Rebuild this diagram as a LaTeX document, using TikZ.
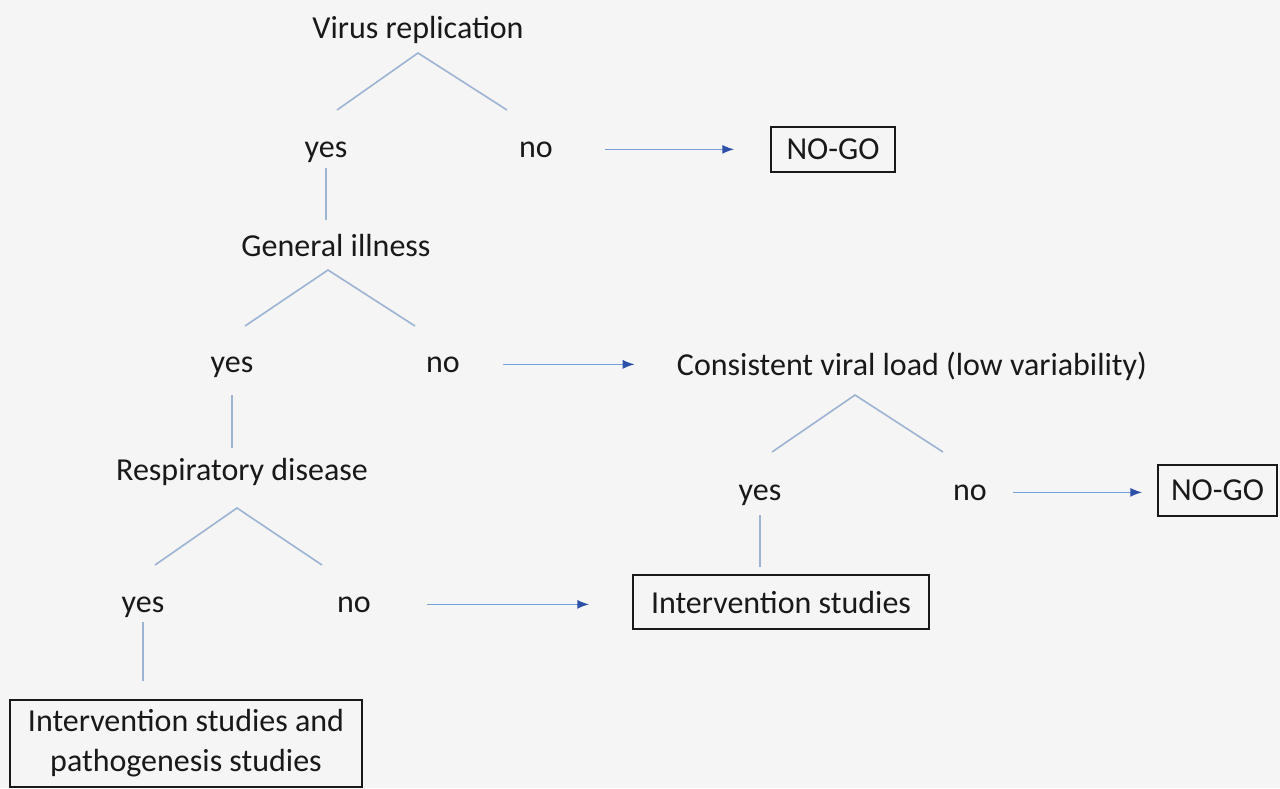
\documentclass[tikz,border=0pt]{standalone}
\usepackage{fontspec}
\setmainfont{Carlito}
\usepackage{tikz}
\usetikzlibrary{arrows.meta}

\definecolor{paper}{RGB}{245,245,245}
\definecolor{branchblue}{RGB}{155,180,212}
\definecolor{shaftblue}{RGB}{120,158,212}
\definecolor{headblue}{RGB}{45,80,170}

\begin{document}
\begin{tikzpicture}[x=1pt, y=-1pt, >={Latex[length=12pt,width=9pt,color=headblue]}]
\tikzstyle{every node}=[font=\fontsize{32}{40}\selectfont, text=black!90];
\tikzstyle{lbl}=[inner sep=0pt, anchor=base];
\tikzstyle{outcome}=[draw=black!90, line width=1.5pt, inner sep=0pt, align=center];
\tikzstyle{branch}=[draw=branchblue, line width=1.6pt];
\tikzstyle{flow}=[draw=shaftblue, line width=1.5pt, ->];
\fill[paper] (0,0) rectangle (1280,788);
\useasboundingbox (0,0) rectangle (1280,788);
% questions and answers
\path (418,38) node[lbl] (vr) {Virus replication};
\path (326,157) node[lbl] (yes1) {yes};
\path (536,157) node[lbl] (no1) {no};
\path (336,256) node[lbl] (gi) {General illness};
\path (232,372) node[lbl] (yes2) {yes};
\path (443,372) node[lbl] (no2) {no};
\path (912,375) node[lbl] (cv) {Consistent viral load (low variability)};
\path (760,500) node[lbl] (yes3) {yes};
\path (970,500) node[lbl] (no3) {no};
\path (242,480) node[lbl] (rd) {Respiratory disease};
\path (143,612) node[lbl] (yes4) {yes};
\path (354,612) node[lbl] (no4) {no};
% outcomes
\path (833,149.5) node[outcome, minimum width=124pt, minimum height=45pt] (ng1) {NO-GO};
\path (1217.5,490.5) node[outcome, minimum width=119pt, minimum height=51pt] (ng2) {NO-GO};
\path (781,602) node[outcome, minimum width=296pt, minimum height=54pt] (is) {Intervention studies};
\path (186,743.5) node[outcome, minimum width=352pt, minimum height=87pt] (ips) {Intervention studies and\\pathogenesis studies};
% branches
\draw[branch] ([xshift=11pt,yshift=47pt]yes1.base) -- ([yshift=-15pt]vr.base) -- ([xshift=-29pt,yshift=47pt]no1.base);
\draw[branch] ([xshift=13pt,yshift=46pt]yes2.base) -- ([xshift=-8pt,yshift=-14pt]gi.base) -- ([xshift=-28pt,yshift=46pt]no2.base);
\draw[branch] ([xshift=12pt,yshift=48pt]yes3.base) -- ([xshift=-57pt,yshift=-20pt]cv.base) -- ([xshift=-27pt,yshift=48pt]no3.base);
\draw[branch] ([xshift=12pt,yshift=47pt]yes4.base) -- ([xshift=-5pt,yshift=-28pt]rd.base) -- ([xshift=-32pt,yshift=47pt]no4.base);
% yes goes down
\draw[branch] ([yshift=-11pt]yes1.base) -- ([yshift=36pt]yes1.base |- gi.base);
\draw[branch] ([yshift=-23pt]yes2.base) -- ([yshift=32pt]yes2.base |- rd.base);
\draw[branch] ([yshift=-15pt]yes3.base) -- ([yshift=7pt]yes3.base |- is.north);
\draw[branch] ([yshift=-10pt]yes4.base) -- ([yshift=18pt]yes4.base |- ips.north);
% no goes right
\draw[flow, shorten <=52pt, shorten >=36pt] (no1.east) -- (no1.east -| ng1.west);
\draw[flow, shorten <=43pt, shorten >=42pt] (no2.east) -- (no2.east -| cv.west);
\draw[flow, shorten <=26pt, shorten >=15pt] (no3.east) -- (no3.east -| ng2.west);
\draw[flow, shorten <=56pt, shorten >=43pt] (no4.east) -- (no4.east -| is.west);
\end{tikzpicture}
\end{document}
